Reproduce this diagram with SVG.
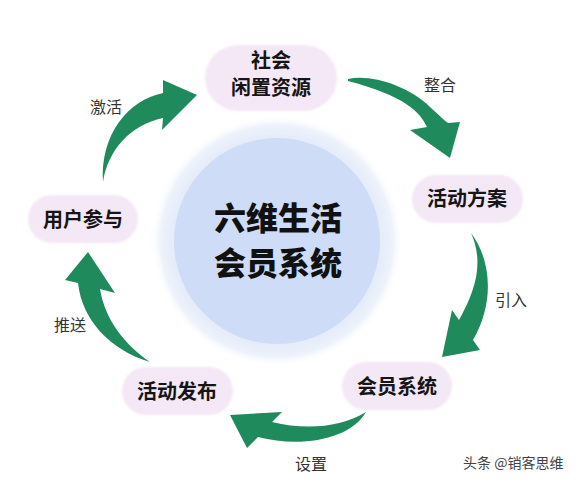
<svg xmlns="http://www.w3.org/2000/svg" width="583" height="483" viewBox="0 0 583 483">
  <defs>
    <radialGradient id="glow" cx="0.5" cy="0.5" r="0.5">
      <stop offset="0.8" stop-color="#e3ebf9"/>
      <stop offset="0.92" stop-color="#edf2fb"/>
      <stop offset="1" stop-color="#ffffff" stop-opacity="0"/>
    </radialGradient>
    <filter id="soft" x="-10%" y="-10%" width="120%" height="120%">
      <feGaussianBlur stdDeviation="1"/>
    </filter>
  </defs>
  <style>
    .pill { fill: #f4e7f6; filter: url(#soft); }
    .node { font-family: "Noto Sans CJK SC", "Noto Sans", sans-serif; font-weight: 700; font-size: 20px; fill: #151515; text-anchor: middle; }
    .center { font-family: "Noto Sans CJK SC", "Noto Sans", sans-serif; font-weight: 900; font-size: 32px; fill: #111111; text-anchor: middle; }
    .lbl { font-family: "Noto Sans CJK SC", "Noto Sans", sans-serif; font-weight: 400; font-size: 16px; fill: #333333; text-anchor: middle; }
    .arrow { fill: #1f8a5b; }
    .wm { font-family: "Noto Sans CJK SC", "Noto Sans", sans-serif; font-size: 14px; fill: #444444; }
  </style>
  <rect width="583" height="483" fill="#ffffff"/>

  <g id="hub">
    <circle cx="277" cy="241" r="126" fill="url(#glow)"/>
    <circle cx="277" cy="241" r="103" fill="#cfdcf7"/>
    <text class="center" x="278" y="230">六维生活</text>
    <text class="center" x="278" y="275">会员系统</text>
  </g>

  <g id="connectors">
    <path class="arrow" d="M348,79 C372,74 408,86 430,107 C440,116 445,121 448,123 L460,122 L450,158 L410,130 L427,127 C420,112 405,96 348,81 Z"/>
    <path class="arrow" d="M471,233 C490,258 496,300 473,340 L480,350 L442,357 L452,310 L459,320 C476,290 484,262 471,233 Z"/>
    <path class="arrow" d="M366,412 C350,440 300,448 258,437 L247,448 L230,415 L282,412 L272,422 C305,430 340,428 366,412 Z"/>
    <path class="arrow" d="M150,362 C110,350 82,320 78,283 L65,280 L88,252 L115,293 L100,289 C105,320 125,345 150,362 Z"/>
    <path class="arrow" d="M103,182 C100,135 128,100 163,93 L163,80 L197,95 L162,130 L163,118 C130,125 108,150 103,182 Z"/>
    <text class="lbl" x="440" y="91">整合</text>
    <text class="lbl" x="511" y="306">引入</text>
    <text class="lbl" x="311" y="470">设置</text>
    <text class="lbl" x="70" y="331">推送</text>
    <text class="lbl" x="106" y="113">激活</text>
  </g>

  <g id="node-resources">
    <rect class="pill" x="205" y="45" width="132" height="66" rx="33"/>
    <text class="node" x="271" y="68">社会</text>
    <text class="node" x="271" y="95">闲置资源</text>
  </g>
  <g id="node-plan">
    <rect class="pill" x="412" y="175" width="111" height="48" rx="24"/>
    <text class="node" x="467" y="206">活动方案</text>
  </g>
  <g id="node-member">
    <rect class="pill" x="342" y="362" width="110" height="48" rx="24"/>
    <text class="node" x="397" y="394">会员系统</text>
  </g>
  <g id="node-publish">
    <rect class="pill" x="122" y="367" width="111" height="48" rx="24"/>
    <text class="node" x="177" y="399">活动发布</text>
  </g>
  <g id="node-user">
    <rect class="pill" x="28" y="195" width="110" height="48" rx="24"/>
    <text class="node" x="83" y="227">用户参与</text>
  </g>

  <text class="wm" x="463" y="468">头条 @销客思维</text>
</svg>
